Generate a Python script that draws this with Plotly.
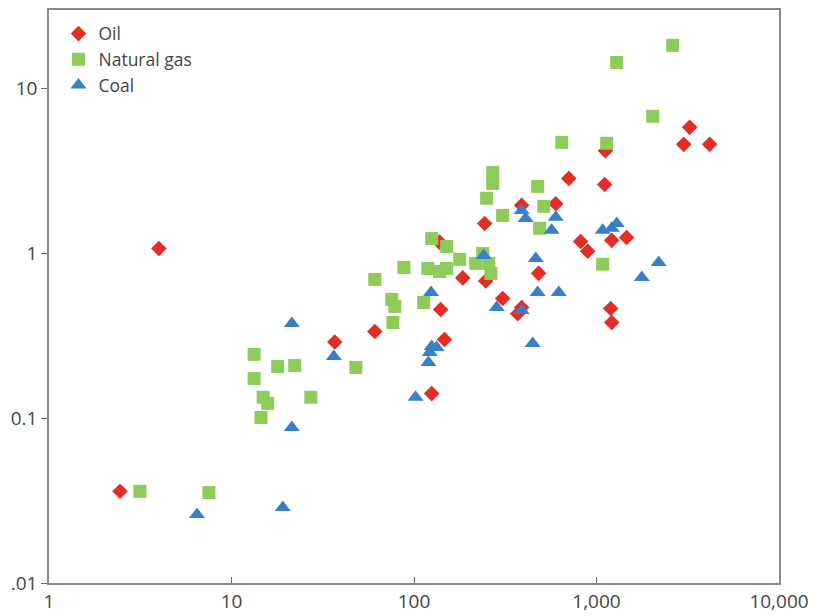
import plotly.graph_objects as go

oil_x = [2.45, 4.0, 36.8, 61, 125, 140, 147, 138, 185, 247, 244, 306, 389, 370, 482, 389, 598, 705,
         1109, 1120, 3240, 3005, 4170, 819, 895, 1212, 1463, 1196, 1212]
oil_y = [0.036, 1.07, 0.29, 0.336, 0.141, 0.457, 0.30, 1.17, 0.71, 0.68, 1.52, 0.533, 0.47, 0.43, 0.757,
         1.96, 2.0, 2.85, 2.62, 4.2, 5.82, 4.59, 4.59, 1.18, 1.03, 1.2, 1.25, 0.463, 0.381]

gas_x = [13.3, 13.3, 17.9, 22.2, 14.9, 15.8, 14.5, 27.2, 3.15, 7.52, 48, 61, 75.5, 78.5, 76.6, 88, 113,
         119, 125, 138, 151, 151, 178, 218, 238, 257, 264, 306, 250, 270, 270, 476, 514, 488, 645,
         1137, 1290, 2614, 2032, 1081]
gas_y = [0.244, 0.174, 0.206, 0.209, 0.134, 0.123, 0.101, 0.134, 0.036, 0.0354, 0.203, 0.695, 0.526,
         0.477, 0.381, 0.822, 0.504, 0.81, 1.23, 0.777, 1.10, 0.81, 0.92, 0.87, 1.0, 0.87, 0.756, 1.70,
         2.16, 3.1, 2.66, 2.55, 1.93, 1.42, 4.72, 4.66, 14.4, 18.3, 6.79, 0.86]

coal_x = [21.4, 21.4, 36.4, 6.47, 19.1, 124, 125, 133, 122, 120, 102, 241, 284, 389, 447, 465, 476, 621,
          389, 409, 568, 598, 1081, 1212, 1290, 1770, 2190]
coal_y = [0.376, 0.0878, 0.237, 0.026, 0.0287, 0.58, 0.272, 0.269, 0.25, 0.218, 0.134, 0.97, 0.47, 0.45,
          0.284, 0.93, 0.58, 0.58, 1.82, 1.63, 1.38, 1.66, 1.38, 1.42, 1.52, 0.715, 0.88]

x_ticks = [1, 10, 100, 1000, 10000]
x_tick_labels = ["1", "10", "100", "1,000", "10,000"]
y_ticks = [0.01, 0.1, 1, 10]
y_tick_labels = [".01", "0.1", "1", "10"]

fig = go.Figure()
fig.add_trace(go.Scatter(x=oil_x, y=oil_y, mode="markers", name="Oil",
                         marker=dict(symbol="diamond", size=12, color="#e52d27")))
fig.add_trace(go.Scatter(x=gas_x, y=gas_y, mode="markers", name="Natural gas",
                         marker=dict(symbol="square", size=13, color="#8dcc58")))
fig.add_trace(go.Scatter(x=coal_x, y=coal_y, mode="markers", name="Coal",
                         marker=dict(symbol="triangle-up", size=14, color="#3a7fc9")))

axis_font = dict(family="Open Sans", size=19, color="#444444")
fig.update_layout(
    width=819, height=616,
    margin=dict(l=49, r=40, t=10, b=33),
    paper_bgcolor="white", plot_bgcolor="white",
    font=axis_font,
    showlegend=True,
    legend=dict(x=0.013, y=0.99, xanchor="left", yanchor="top", bgcolor="rgba(0,0,0,0)",
                font=dict(family="Open Sans", size=17.5, color="#444444"),
                tracegroupgap=0, itemwidth=30),
    xaxis=dict(type="log", range=[0, 4], tickvals=x_ticks, ticktext=x_tick_labels,
               ticks="inside", ticklen=6, tickcolor="#666666", showgrid=False, zeroline=False,
               showline=True, linecolor="#888888", linewidth=1.5, mirror=True,
               tickfont=axis_font, automargin=False),
    yaxis=dict(type="log", range=[-2, 1.477], tickvals=y_ticks, ticktext=y_tick_labels,
               ticks="outside", ticklen=6, tickcolor="#666666", showgrid=False, zeroline=False,
               showline=True, linecolor="#888888", linewidth=1.5, mirror=True,
               tickfont=axis_font, automargin=False),
)

fig.write_html("out.html", config={"displayModeBar": False},
               post_script="document.body.style.margin='0';document.body.style.overflow='hidden';")
